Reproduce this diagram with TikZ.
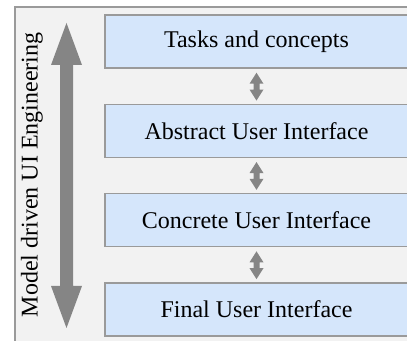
\documentclass[tikz,border=0pt]{standalone}
\usepackage{fontspec}
\setmainfont{Liberation Serif}
\usetikzlibrary{calc,positioning}
\definecolor{framegray}{HTML}{F2F2F2}
\definecolor{linegray}{HTML}{9A9A9A}
\definecolor{boxblue}{HTML}{D5E6FB}
\definecolor{arrowgray}{HTML}{858585}
\def\dblarrow[#1](#2)(#3)(#4:#5:#6){\fill[#1] (#2) -- ($(#2)+(#5,#6)$) -- ($(#2)+(#4,#6)$) -- ($(#3)+(#4,-#6)$) -- ($(#3)+(#5,-#6)$) -- (#3) -- ($(#3)+(-#5,-#6)$) -- ($(#3)+(-#4,-#6)$) -- ($(#2)+(-#4,#6)$) -- ($(#2)+(-#5,#6)$) -- cycle;}

\begin{document}
\begin{tikzpicture}[x=0.5pt, y=-0.5pt, font=\fontsize{12}{14}\selectfont,
	uibox/.style={draw=linegray, fill=boxblue, line width=0.75pt, minimum width=151.5pt, minimum height=26.5pt, inner sep=0pt}]
		%%%%% START %%%%%
		
		\useasboundingbox (0, 0) rectangle (407, 341);
		\draw[line width=0.75pt, draw=linegray, fill=framegray] (15, 7) rectangle (430, 360);
		
		\node[uibox] (tasks) at (256.5, 41.5) {Tasks and concepts};
		\node[uibox, below=17.4pt of tasks] (abstract) {Abstract User Interface};
		\node[uibox, below=17.4pt of abstract] (concrete) {Concrete User Interface};
		\node[uibox, below=17.4pt of concrete] (final) {Final User Interface};
		
		\coordinate (ta) at ($(tasks.south)+(0, 4)$);
		\coordinate (at) at ($(abstract.north)+(0, -3)$);
		\dblarrow[arrowgray](ta)(at)(3:7:11);
		\coordinate (ac) at ($(abstract.south)+(0, 4)$);
		\coordinate (ca) at ($(concrete.north)+(0, -3)$);
		\dblarrow[arrowgray](ac)(ca)(3:7:11);
		\coordinate (cf) at ($(concrete.south)+(0, 4)$);
		\coordinate (fc) at ($(final.north)+(0, -3)$);
		\dblarrow[arrowgray](cf)(fc)(3:7:11);
		
		\coordinate (mdtop) at (66.5, 23);
		\coordinate (mdbot) at (66.5, 328);
		\dblarrow[arrowgray](mdtop)(mdbot)(6.5:15.5:42);
		\node[rotate=90] (mde) at (32, 175) {Model driven UI Engineering};
		
		%%%%% END %%%%%
	\end{tikzpicture}
\end{document}
